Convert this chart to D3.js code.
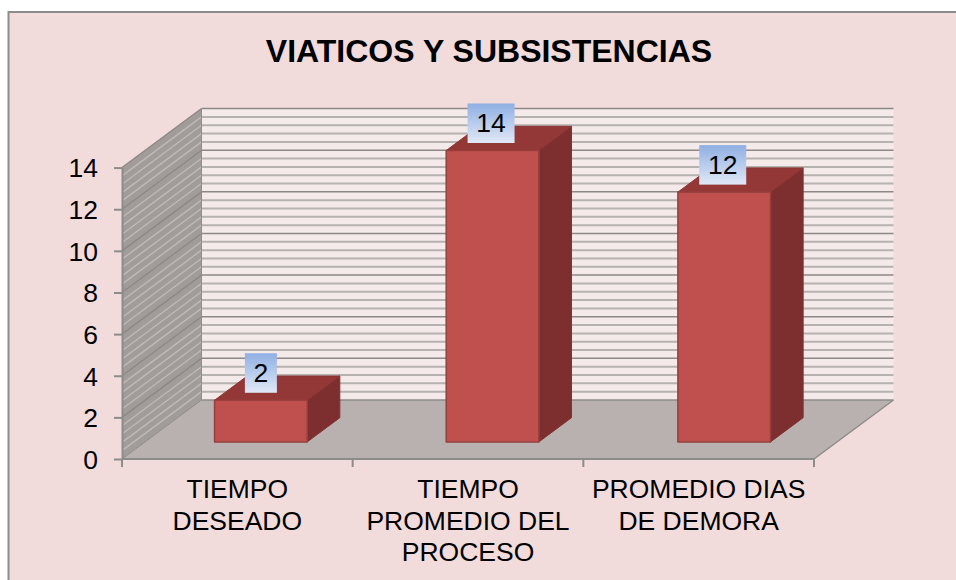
<!DOCTYPE html>
<html><head><meta charset="utf-8">
<script src="https://cdn.jsdelivr.net/npm/d3@7"></script>
<style>html,body{margin:0;padding:0;background:#fff}svg{display:block}text{font-family:"Liberation Sans",Arial,sans-serif;fill:#000}</style>
</head><body><svg id="c" width="956" height="580"></svg>
<script>
const titleText = "VIATICOS Y SUBSISTENCIAS";
const categories = ["TIEMPO DESEADO","TIEMPO PROMEDIO DEL PROCESO","PROMEDIO DIAS DE DEMORA"];
const categoryLines = [["TIEMPO","DESEADO"],["TIEMPO","PROMEDIO DEL","PROCESO"],["PROMEDIO DIAS","DE DEMORA"]];
const values = [2,14,12];
const yTicks = [0,2,4,6,8,10,12,14];
const minorStep = 0.4;

const svg = d3.select("#c");
const DX = 79.5, DY = 59;
const x = d3.scaleBand().domain(categories).range([122,817]).paddingInner(.6).paddingOuter(.3);
const xCat = d3.scaleBand().domain(categories).range([122,814]);
const y = d3.scaleLinear().domain([0,14]).range([459,167.6]);
const px = (vx,d)=>vx+DX*d, py=(v,d)=>y(v)-DY*d;
const poly = pts => pts.map(p=>p.join(",")).join(" ");

const defs = svg.append("defs");
const grad = defs.append("linearGradient").attr("id","lbl").attr("x1",0).attr("y1",0).attr("x2",0).attr("y2",1);
grad.append("stop").attr("offset",0).attr("stop-color","#8fafe3");
grad.append("stop").attr("offset",1).attr("stop-color","#e1e8f6");

svg.append("rect").attr("x",8.5).attr("y",12).attr("width",960).attr("height",600).attr("fill","#f2dcdb").attr("stroke","#8c8c8c").attr("stroke-width",2);
svg.append("text").attr("x",489).attr("y",62).attr("text-anchor","middle").attr("font-weight","bold").attr("font-size",32).text(titleText);

const x0=122,x1=814,vTop=14;
// back wall
svg.append("polygon").attr("points",poly([[px(x0,1),py(0,1)],[px(x1,1),py(0,1)],[px(x1,1),py(vTop,1)],[px(x0,1),py(vTop,1)]])).attr("fill","#f5eaea");
// side wall
svg.append("polygon").attr("points",poly([[x0,y(0)],[px(x0,1),py(0,1)],[px(x0,1),py(vTop,1)],[x0,y(vTop)]])).attr("fill","#a19c9a");
// floor
svg.append("polygon").attr("points",poly([[x0,y(0)],[x1,y(0)],[px(x1,1),py(0,1)],[px(x0,1),py(0,1)]])).attr("fill","#b9b1b0");

const grid = d3.range(0,Math.round(14/minorStep)+1).map(i=>+(i*minorStep).toFixed(1));
const isMajor = v=>yTicks.includes(v);
grid.filter(v=>v>0).forEach(v=>{
  const m=isMajor(v);
  svg.append("line").attr("x1",px(x0,1)).attr("x2",px(x1,1)).attr("y1",py(v,1)).attr("y2",py(v,1))
    .attr("stroke",m?"#8b8886":"#b5b2af").attr("stroke-width",m?1.5:2);
  svg.append("line").attr("x1",x0).attr("x2",px(x0,1)).attr("y1",y(v)).attr("y2",py(v,1))
    .attr("stroke",m?"#8b8886":"#bdbab7").attr("stroke-width",m?1.3:1.4);
});
// frame edges
const edge="#8c8c8a";
svg.append("line").attr("x1",px(x0,1)).attr("x2",px(x0,1)).attr("y1",py(0,1)).attr("y2",py(vTop,1)).attr("stroke",edge).attr("stroke-width",1);
svg.append("line").attr("x1",px(x0,1)).attr("x2",px(x1,1)).attr("y1",py(0,1)).attr("y2",py(0,1)).attr("stroke",edge).attr("stroke-width",1.5);
svg.append("line").attr("x1",x0).attr("x2",px(x0,1)).attr("y1",y(0)).attr("y2",py(0,1)).attr("stroke",edge).attr("stroke-width",1);
svg.append("line").attr("x1",x1).attr("x2",px(x1,1)).attr("y1",y(0)).attr("y2",py(0,1)).attr("stroke",edge).attr("stroke-width",1.5);

// axes
const yAxis = svg.append("g").attr("transform",`translate(${x0},0)`)
  .call(d3.axisLeft(y).tickValues(yTicks).tickSize(8).tickPadding(16).tickSizeOuter(0));
yAxis.selectAll("text").attr("font-size",26.5).attr("dy","0.35em").style("font-family","'Liberation Sans',Arial,sans-serif").attr("fill","#000");
yAxis.selectAll("line,path").attr("stroke",edge).attr("stroke-width",2);
const xAxis = svg.append("g").attr("transform",`translate(0,${y(0)})`);
xAxis.append("line").attr("x1",x0).attr("x2",x1).attr("stroke",edge).attr("stroke-width",2);
[...categories.map(c=>xCat(c)),x1].forEach(t=>xAxis.append("line").attr("x1",t).attr("x2",t).attr("y1",0).attr("y2",8).attr("stroke",edge).attr("stroke-width",2));

// bars
const d0=.29,d1=.7;
categories.forEach((c,i)=>{
  const v=values[i], l=px(x(c),d0), r=l+x.bandwidth(), ox=DX*(d1-d0), oy=DY*(d1-d0);
  const b=py(0,d0), t=py(v,d0);
  const G=svg.append("g").attr("stroke-linejoin","round");
  G.append("polygon").attr("points",poly([[r,b],[r+ox,b-oy],[r+ox,t-oy],[r,t]])).attr("fill","#7c2f2e").attr("stroke","#84312f");
  G.append("polygon").attr("points",poly([[l,t],[r,t],[r+ox,t-oy],[l+ox,t-oy]])).attr("fill","#933836").attr("stroke","#8a3433");
  G.append("rect").attr("x",l).attr("y",t).attr("width",r-l).attr("height",b-t).attr("fill","#c0504d").attr("stroke","#973f3d").attr("stroke-width",1.5);
  const lab=String(v), w=lab.length>1?47:32, cx=(l+r)/2+(lab.length>1?-1.5:0);
  svg.append("rect").attr("x",cx-w/2).attr("y",t-47).attr("width",w).attr("height",39.5).attr("fill","url(#lbl)");
  svg.append("text").attr("x",cx).attr("y",t-18).attr("text-anchor","middle").attr("font-size",26.5).text(lab);
  // category label
  const cxl=xCat(c)+xCat.bandwidth()/2;
  categoryLines[i].forEach((s,k)=>svg.append("text").attr("x",cxl).attr("y",498+k*31.6).attr("text-anchor","middle").attr("font-size",26.5).text(s));
});
</script></body></html>
